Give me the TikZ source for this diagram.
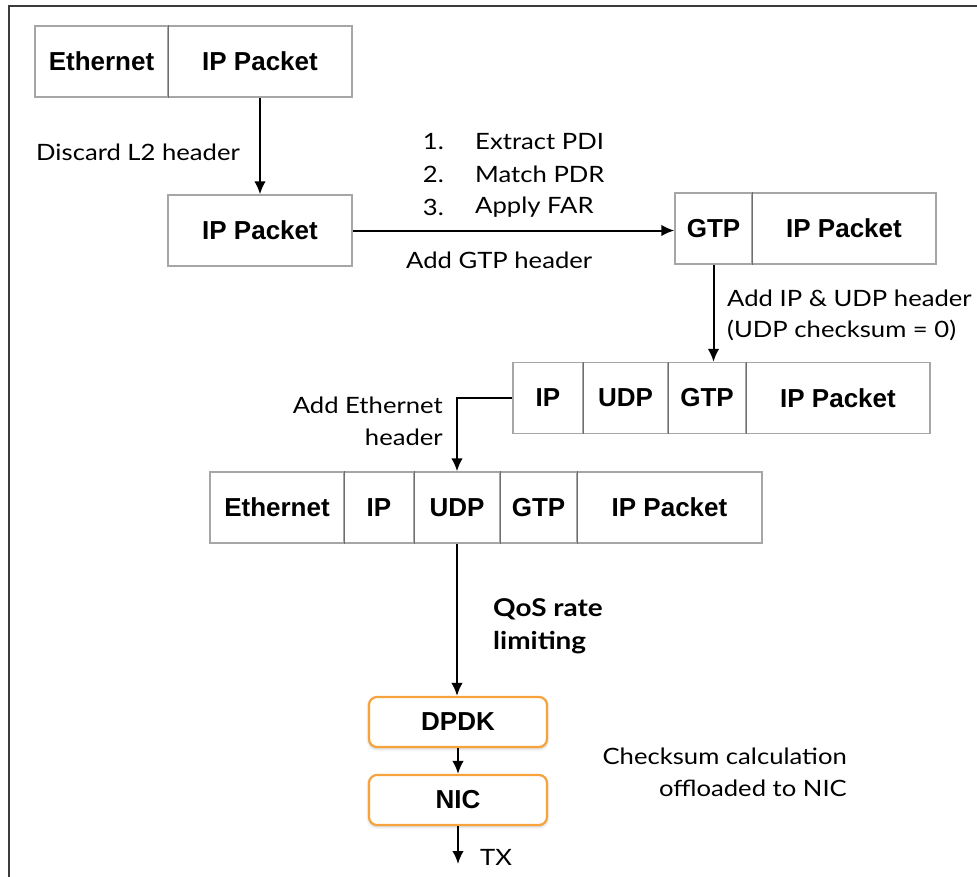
\documentclass[tikz,border=0pt]{standalone}
\usepackage{fontspec}
\setmainfont{Liberation Sans}
\newfontfamily\labelfont[FakeStretch=1.14]{Lato}
\usetikzlibrary{arrows.meta,shadows.blur}

\definecolor{cellgray}{HTML}{A6A6A6}
\definecolor{divgray}{HTML}{6E6E6E}
\definecolor{framegray}{HTML}{3C3C3C}
\definecolor{stageorange}{HTML}{F5A33A}

\begin{document}
\begin{tikzpicture}[x=1pt,y=-1pt,
  cell/.style={draw=cellgray, line width=1.3pt, fill=white, minimum height=71pt,
    inner sep=0pt, font=\fontsize{26}{30}\selectfont\bfseries},
  divider/.style={draw=divgray, line width=1.2pt},
  stage/.style={draw=stageorange, line width=2.2pt, fill=white, rounded corners=8pt,
    minimum width=178pt, minimum height=50pt, inner sep=0pt,
    font=\fontsize{26}{30}\selectfont\bfseries,
    blur shadow={shadow xshift=0pt, shadow yshift=-1.5pt, shadow blur radius=3pt, shadow opacity=25}},
  note/.style={inner sep=0pt, font=\labelfont\fontsize{22.5}{32}\selectfont},
  boldnote/.style={inner sep=0pt, font=\labelfont\bfseries\fontsize{24.5}{34}\selectfont},
  flow/.style={line width=2pt, -{Latex[length=13pt,width=11.5pt]}}
]
\useasboundingbox (0,0) rectangle (977,876);

% outer frame
\draw[framegray, line width=2pt] (9,880) -- (9,5.5) -- (981,5.5);

% row 1: Ethernet | IP Packet
\node[cell, minimum width=133pt] (r1eth) at (101.5,61.5) {Ethernet};
\node[cell, minimum width=184pt] (r1ip) at (260,61.5) {IP Packet};
\draw[divider] (r1eth.north east) -- (r1eth.south east);

% row 2: IP Packet
\node[cell, minimum width=184pt] (r2ip) at (260,230.5) {IP Packet};

% row 3: GTP | IP Packet
\node[cell, minimum width=77pt] (r3gtp) at (713.5,228.5) {GTP};
\node[cell, minimum width=184pt] (r3ip) at (844,228.5) {IP Packet};
\draw[divider] (r3gtp.north east) -- (r3gtp.south east);

% row 4: IP | UDP | GTP | IP Packet
\node[cell, minimum width=70pt] (r4ip) at (548,398) {IP};
\node[cell, minimum width=85pt] (r4udp) at (625.5,398) {UDP};
\node[cell, minimum width=78pt] (r4gtp) at (707,398) {GTP};
\node[cell, minimum width=184pt] (r4pkt) at (838,398) {IP Packet};
\draw[divider] (r4ip.north east) -- (r4ip.south east);
\draw[divider] (r4udp.north east) -- (r4udp.south east);
\draw[divider] (r4gtp.north east) -- (r4gtp.south east);

% row 5: Ethernet | IP | UDP | GTP | IP Packet
\node[cell, minimum width=134pt] (r5eth) at (277,507.5) {Ethernet};
\node[cell, minimum width=70pt] (r5ip) at (379,507.5) {IP};
\node[cell, minimum width=86pt] (r5udp) at (457,507.5) {UDP};
\node[cell, minimum width=77pt] (r5gtp) at (538.5,507.5) {GTP};
\node[cell, minimum width=185pt] (r5pkt) at (669.5,507.5) {IP Packet};
\draw[divider] (r5eth.north east) -- (r5eth.south east);
\draw[divider] (r5ip.north east) -- (r5ip.south east);
\draw[divider] (r5udp.north east) -- (r5udp.south east);
\draw[divider] (r5gtp.north east) -- (r5gtp.south east);

% DPDK and NIC stages
\node[stage] (dpdk) at (458,722) {DPDK};
\node[stage] (nic) at (458,800) {NIC};
\coordinate (tx) at (458,864);

% connectors
\draw[flow] (r1ip.south) -- (r2ip.north);
\draw[flow] (r2ip.east) -- (r2ip.east -| r3gtp.west);
\draw[flow] (r3gtp.south) -- (r3gtp.south |- r4ip.north);
\draw[flow] (r4ip.west) -| (r5udp.north);
\draw[flow] (r5udp.south) -- (r5udp.south |- dpdk.north);
\draw[flow] (dpdk.south) -- (nic.north);
\draw[flow] (nic.south) -- (tx);

% labels
\node[note, anchor=west] (discard) at (36,152) {Discard L2 header};
\node[note, anchor=east] (n1) at (444,142) {1.};
\node[note, anchor=east] (n2) at (444,174) {2.};
\node[note, anchor=east] (n3) at (444,207) {3.};
\node[note, anchor=west] (s1) at (475,142) {Extract PDI};
\node[note, anchor=west] (s2) at (475,174) {Match PDR};
\node[note, anchor=west] (s3) at (475,207) {Apply FAR};
\node[note, anchor=west] (addgtp) at (406,260) {Add GTP header};
\node[note, anchor=west] (addipudp) at (727,298) {Add IP \& UDP header};
\node[note, anchor=west] (udpzero) at (727,330) {(UDP checksum = 0)};
\node[note, anchor=east] (addeth) at (443,405) {Add Ethernet};
\node[note, anchor=east] (addeth2) at (443,437) {header};
\node[boldnote, anchor=west] (qos1) at (493,609) {QoS rate};
\node[boldnote, anchor=west] (qos2) at (493,643) {limiting};
\node[note, anchor=east] (cks1) at (847,756) {Checksum calculation};
\node[note, anchor=east] (cks2) at (847,788) {offloaded to NIC};
\node[note, anchor=west] (txl) at (480,857) {TX};
\end{tikzpicture}
\end{document}
